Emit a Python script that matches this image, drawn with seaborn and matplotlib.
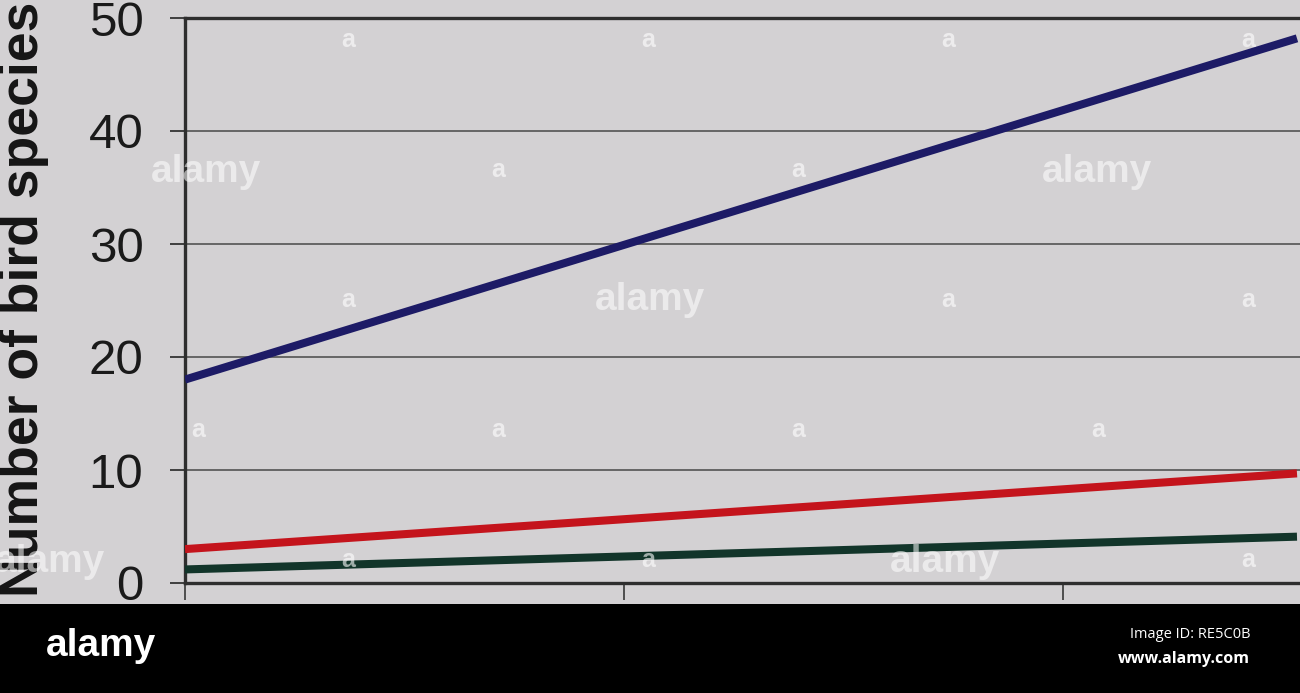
import matplotlib
matplotlib.use("Agg")
import matplotlib.pyplot as plt
import seaborn as sns
import pandas as pd
from matplotlib.patches import Rectangle

# ---- data ----
x_values = [0.0, 2.533]
blue_values = [18.0, 48.2]
red_values = [3.0, 9.7]
green_values = [1.2, 4.1]
series_names = ["blue", "red", "green"]
y_ticks = [0, 10, 20, 30, 40, 50]
x_ticks = [0, 1, 2]
y_label = "Number of bird species"

df = pd.DataFrame({
    "x": x_values * 3,
    "y": blue_values + red_values + green_values,
    "series": [s for s in series_names for _ in x_values],
})
palette = {"blue": "#1d1b66", "red": "#c4141c", "green": "#12352a"}

sns.set_theme(style="white")
bg = "#d3d1d3"
W, H = 1300, 693
fig = plt.figure(figsize=(W / 100, H / 100), dpi=100, facecolor=bg)
ax = fig.add_axes([185 / W, (H - 583) / H, (W - 185) / W, 565 / H])
ax.set_facecolor(bg)

for yv in [10, 20, 30, 40]:
    ax.axhline(yv, color="#484848", lw=1.1, zorder=1)

sns.lineplot(data=df, x="x", y="y", hue="series", palette=palette,
             linewidth=5.8, legend=False, ax=ax, zorder=3)
for ln in ax.lines[-3:]:
    ln.set_solid_capstyle("butt")

ax.set_xlim(0, (W - 185) / 439)
ax.set_ylim(0, 50)
ax.set_yticks(y_ticks)
ax.set_yticklabels([str(v) for v in y_ticks], fontsize=35.5,
                   family=["Liberation Sans", "DejaVu Sans"], color="#1a1a1a")
ax.set_xticks(x_ticks)
ax.set_xticklabels([])
ax.tick_params(axis="y", direction="out", length=11, width=1.3, pad=19,
               colors="#333333", labelcolor="#1a1a1a", left=True)
ax.tick_params(axis="x", direction="out", length=12, width=1.3,
               colors="#444444", bottom=True)
ax.set_xlabel("")
ax.set_ylabel("")
for side in ["left", "top", "bottom"]:
    ax.spines[side].set_visible(True)
    ax.spines[side].set_color("#2e2e2e")
    ax.spines[side].set_linewidth(2.4)
ax.spines["right"].set_visible(False)

fig.text(49 / W, (H - 597) / H, y_label, rotation=90, ha="right", va="bottom",
         fontsize=38.5, fontweight="bold", family=["Liberation Sans", "DejaVu Sans"],
         color="#151515")

# watermark overlays
wm_big = [(206, 172), (1097, 172), (650, 300), (50, 562), (945, 562)]
for (px, py) in wm_big:
    fig.text(px / W, 1 - py / H, "alamy", ha="center", va="center", fontsize=28,
             fontweight="bold", family=["Liberation Sans Narrow", "Liberation Sans"],
             color="white", alpha=0.55, zorder=10)
wm_small = [(348, 40), (648, 40), (948, 40), (1248, 40), (498, 170), (798, 170),
            (348, 300), (948, 300), (1248, 300), (198, 430), (498, 430), (798, 430),
            (1098, 430), (348, 560), (648, 560), (1248, 560)]
for (px, py) in wm_small:
    fig.text(px / W, 1 - py / H, "a", ha="center", va="center", fontsize=18,
             fontweight="bold", family=["Liberation Sans Narrow", "Liberation Sans"],
             color="white", alpha=0.6, zorder=10)

# bottom band
fig.patches.append(Rectangle((0, 0), 1, (H - 604) / H, transform=fig.transFigure,
                             facecolor="black", edgecolor="none", zorder=5))
fig.text(101 / W, 1 - 646 / H, "alamy", ha="center", va="center", fontsize=28,
         fontweight="bold", family=["Liberation Sans Narrow", "Liberation Sans"],
         color="white", zorder=11)
fig.text(1250 / W, 1 - 635 / H, "Image ID: RE5C0B", ha="right", va="center",
         fontsize=10.5, family=["Open Sans", "DejaVu Sans"], color="white", zorder=11)
fig.text(1250 / W, 1 - 659 / H, "www.alamy.com", ha="right", va="center",
         fontsize=11.5, fontweight="bold", family=["Open Sans", "DejaVu Sans"],
         color="white", zorder=11)

fig.savefig("out.png", dpi=100, facecolor=bg)
